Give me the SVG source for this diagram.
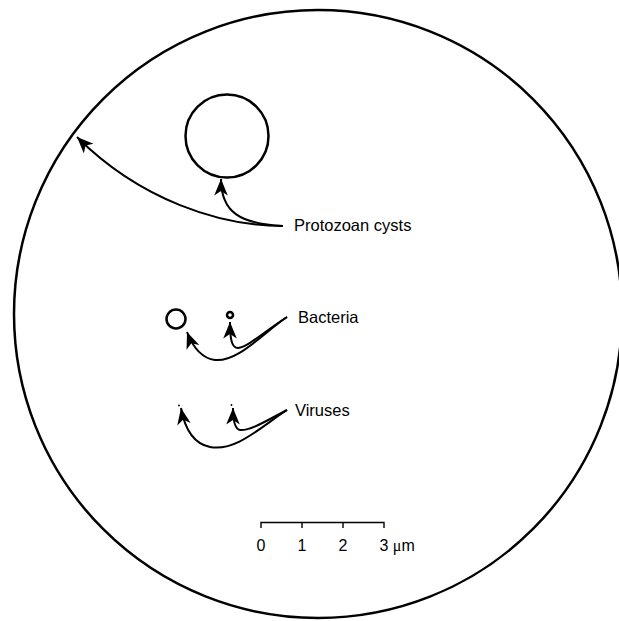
<svg xmlns="http://www.w3.org/2000/svg" width="619" height="621" viewBox="0 0 619 621">
<style>
.l{fill:none;stroke:#000;stroke-width:2}
.c{fill:none;stroke:#000;stroke-width:2.5}
.t{font-family:"Liberation Sans",Arial,sans-serif;font-size:16.5px;fill:#000}
.s{font-family:"Liberation Sans",Arial,sans-serif;font-size:16px;fill:#000}
</style>
<defs>
<marker id="ah" markerWidth="20" markerHeight="16" viewBox="-18 -8 20 16" refX="0" refY="0" orient="auto" markerUnits="userSpaceOnUse">
<path d="M0,0 L-16.5,-6.8 L-12,0 L-16.5,6.8 Z" fill="#000"/>
</marker>
</defs>
<rect width="619" height="621" fill="#fff"/>
<g id="field"><circle cx="318" cy="314" r="304" class="c"/></g>
<g id="protozoan"><circle cx="227" cy="136" r="41.5" class="c"/></g>
<g id="bacteria-large"><circle cx="176" cy="319" r="9.5" class="c"/></g>
<g id="bacteria-small"><circle cx="230" cy="315" r="3" class="c"/></g>
<g id="virus-1"><circle cx="179" cy="405.5" r="0.9" fill="#000"/></g>
<g id="virus-2"><circle cx="231.5" cy="405" r="0.9" fill="#000"/></g>
<g id="labels">
<text class="t" x="294" y="231">Protozoan cysts</text>
<text class="t" x="298" y="323">Bacteria</text>
<text class="t" x="295" y="416">Viruses</text>
</g>
<g id="connectors">
<path class="l" d="M283,226 C240,224 221,212 221,179" marker-end="url(#ah)"/>
<path class="l" d="M283,226 C220,226 140,200 77,137" marker-end="url(#ah)"/>
<path class="l" d="M287,317 C262,334 238,362 215,360 C200,358 192,345 187,332" marker-end="url(#ah)"/>
<path class="l" d="M287,317 C265,331 248,347 238,348 C232,348 230,340 230,322" marker-end="url(#ah)"/>
<path class="l" d="M287,410 C262,426 236,452 210,447 C195,444 185,430 181,408" marker-end="url(#ah)"/>
<path class="l" d="M287,410 C266,421 250,431 240,430 C235,429 233,422 233,408" marker-end="url(#ah)"/>
</g>
<g id="scale">
<path class="l" style="stroke-width:1.4" d="M261,528 V522.5 H384 V528 M302,522.5 V528 M343,522.5 V528"/>
<text class="s" x="261" y="551" text-anchor="middle">0</text>
<text class="s" x="302" y="551" text-anchor="middle">1</text>
<text class="s" x="343" y="551" text-anchor="middle">2</text>
<text class="s" x="379.5" y="551">3 <tspan font-family="'Liberation Serif',serif">μ</tspan>m</text>
</g>
</svg>
